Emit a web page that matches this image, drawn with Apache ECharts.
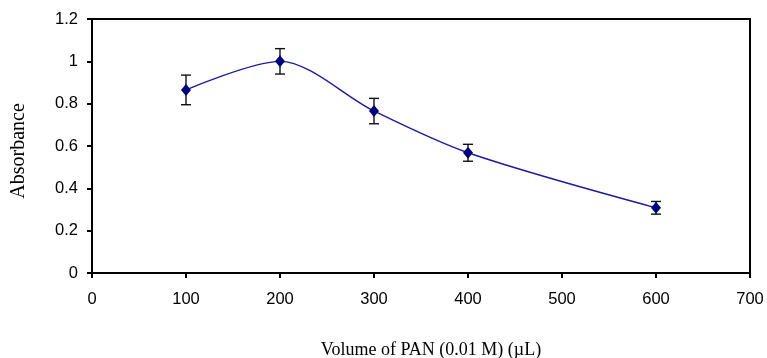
<!DOCTYPE html>
<html>
<head>
<meta charset="utf-8">
<script src="https://cdn.jsdelivr.net/npm/echarts@6/dist/echarts.min.js"></script>
<style>
  html, body { margin: 0; padding: 0; background: #fff; }
  #chart { width: 767px; height: 358px; }
</style>
</head>
<body>
<div id="chart"></div>
<script>
// volume of PAN (uL) vs absorbance, with error bars
const volumes = [100, 200, 300, 400, 600];
const absorbance = [0.865, 1.0, 0.765, 0.568, 0.308];
const errors = [0.07, 0.06, 0.06, 0.04, 0.03];

const chart = echarts.init(document.getElementById('chart'), null, { renderer: 'canvas' });

const tickFont = { color: '#000', fontFamily: 'Liberation Sans, Arial', fontSize: 16.5 };
const titleFont = { color: '#000', fontFamily: 'Liberation Serif, Times New Roman' };

chart.setOption({
  animation: false,
  grid: {
    left: 92, right: 17, top: 19, bottom: 85,
    outerBoundsMode: 'none',
    containLabel: false,
    show: true, borderColor: '#000', borderWidth: 2
  },
  xAxis: {
    type: 'value', min: 0, max: 700, interval: 100,
    name: 'Volume of PAN (0.01 M) (µL)',
    nameLocation: 'middle', nameGap: 68,
    nameTextStyle: Object.assign({ fontSize: 18, padding: [0, 0, 0, 20] }, titleFont),
    axisLine: { show: true, lineStyle: { color: '#000', width: 2 } },
    axisTick: { show: true, inside: false, length: 5, lineStyle: { color: '#000', width: 2 } },
    axisLabel: Object.assign({ margin: 18 }, tickFont),
    splitLine: { show: false }
  },
  yAxis: {
    type: 'value', min: 0, max: 1.2, interval: 0.2,
    name: 'Absorbance',
    nameLocation: 'middle', nameGap: 63,
    nameTextStyle: Object.assign({ fontSize: 20, padding: [0, 10, 0, 0] }, titleFont),
    axisLine: { show: true, lineStyle: { color: '#000', width: 2 } },
    axisTick: { show: true, inside: false, length: 5, lineStyle: { color: '#000', width: 2 } },
    axisLabel: Object.assign({ margin: 14, formatter: v => String(+v.toFixed(1)) }, tickFont),
    splitLine: { show: false }
  },
  series: [
    {
      type: 'line',
      data: volumes.map((v, i) => [v, absorbance[i]]),
      smooth: 0.3,
      symbol: 'diamond',
      symbolSize: [10, 12],
      itemStyle: { color: '#000080' },
      lineStyle: { color: '#1c1ca0', width: 1.4 },
      z: 3
    },
    {
      type: 'custom',
      data: volumes.map((v, i) => [v, absorbance[i] - errors[i], absorbance[i] + errors[i]]),
      renderItem: (params, api) => {
        const lo = api.coord([api.value(0), api.value(1)]);
        const hi = api.coord([api.value(0), api.value(2)]);
        const w = 5;
        const style = { stroke: '#111', lineWidth: 1.4 };
        return {
          type: 'group',
          children: [
            { type: 'line', shape: { x1: lo[0], y1: lo[1], x2: hi[0], y2: hi[1] }, style },
            { type: 'line', shape: { x1: hi[0] - w, y1: hi[1], x2: hi[0] + w, y2: hi[1] }, style },
            { type: 'line', shape: { x1: lo[0] - w, y1: lo[1], x2: lo[0] + w, y2: lo[1] }, style }
          ]
        };
      },
      z: 2
    }
  ]
});
</script>
</body>
</html>
